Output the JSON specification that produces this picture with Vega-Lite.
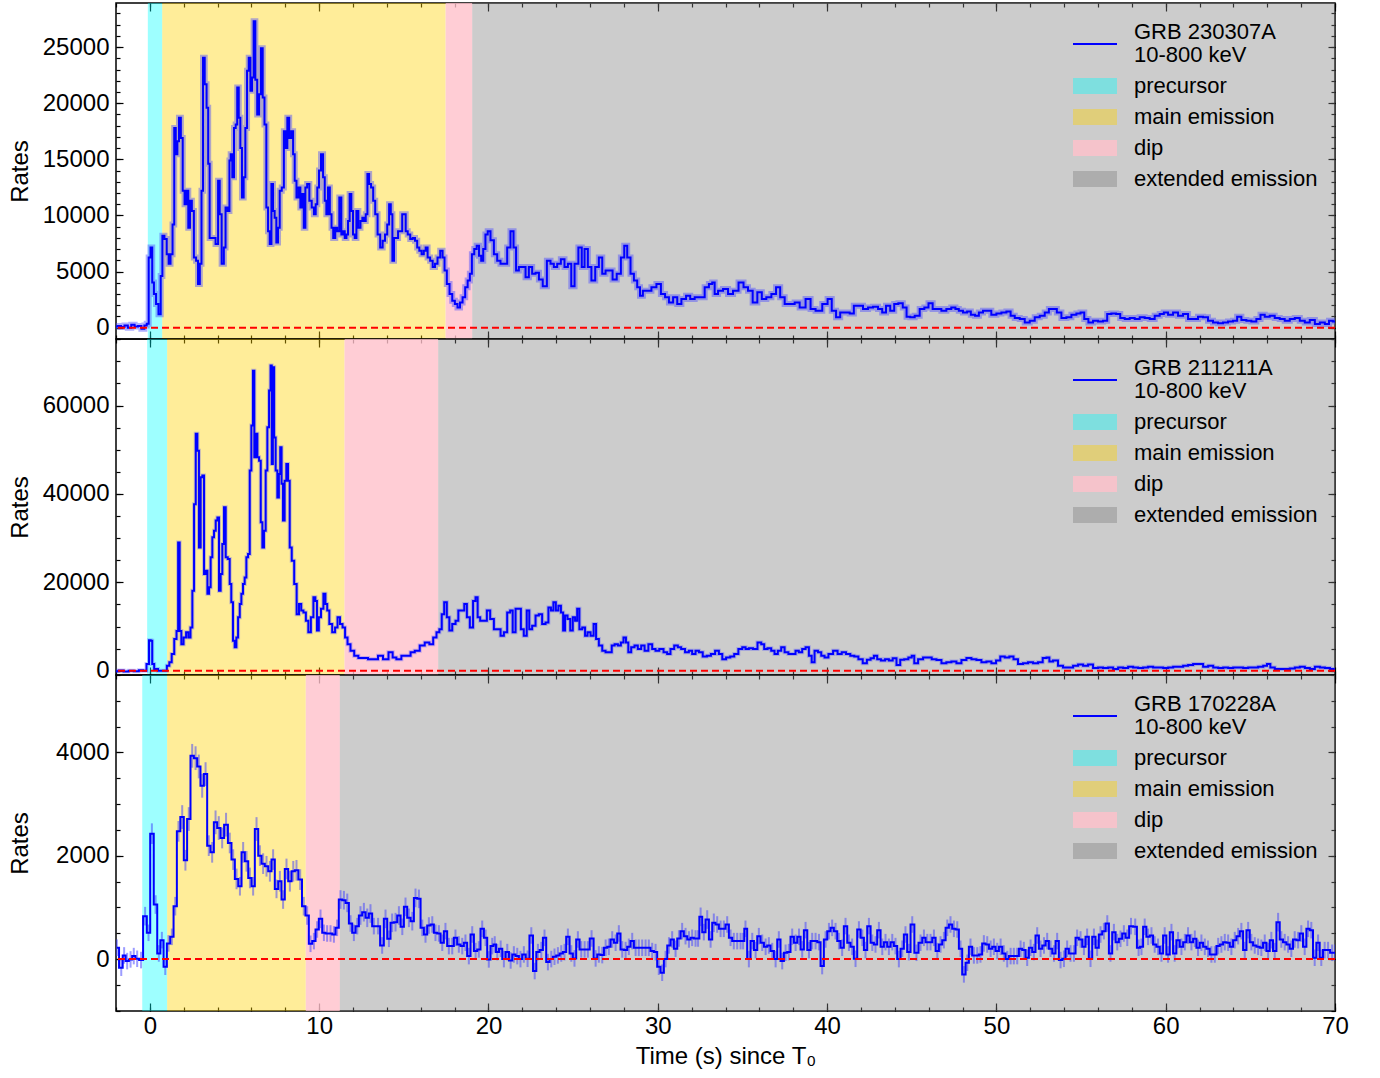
{
"$schema": "https://vega.github.io/schema/vega-lite/v6.json",
"background": "white",
"padding": {"left": 7, "top": 1, "right": 0, "bottom": 0},
"config": {
  "view": {"stroke": "#000000", "strokeWidth": 1.5},
  "font": "Liberation Sans",
  "axis": {"labelFont": "Liberation Sans", "labelFontSize": 24, "labelColor": "#000000", "titleFont": "Liberation Sans", "titleFontSize": 24, "titleFontWeight": "normal", "titleColor": "#000000", "tickColor": "#000000", "tickWidth": 1.2, "domain": false, "grid": false, "labelOverlap": false, "labelFlush": false, "labelBound": false, "zindex": 2},
  "legend": {"labelFont": "Liberation Sans", "orient": "top-right", "offset": 17, "titleFontSize": 9, "titlePadding": 4, "titleOpacity": 0, "padding": 0, "labelFontSize": 22, "labelColor": "#000000", "labelLimit": 400, "labelOffset": 28, "rowPadding": 9, "symbolType": "M-2.75,-1H2.75V1H-2.75Z", "symbolSize": 256, "symbolStrokeWidth": 0, "symbolOpacity": 1}
},
"datasets": {
  "reg1": [{"a": -0.12, "b": 0.73, "seg": "precursor"}, {"a": 0.73, "b": 17.47, "seg": "main emission"}, {"a": 17.47, "b": 19.04, "seg": "dip"}, {"a": 19.04, "b": 70, "seg": "extended emission"}],
  "reg2": [{"a": -0.16, "b": 1.02, "seg": "precursor"}, {"a": 1.02, "b": 11.5, "seg": "main emission"}, {"a": 11.5, "b": 17.03, "seg": "dip"}, {"a": 17.03, "b": 70, "seg": "extended emission"}],
  "reg3": [{"a": -0.45, "b": 1.02, "seg": "precursor"}, {"a": 1.02, "b": 9.21, "seg": "main emission"}, {"a": 9.21, "b": 11.22, "seg": "dip"}, {"a": 11.22, "b": 70, "seg": "extended emission"}],
  "lc1": [
{"t":-2,"r":100},{"t":-1.8,"r":150},{"t":-1.6,"r":50},{"t":-1.4,"r":200},{"t":-1.2,"r":0},{"t":-1,"r":250},{"t":-0.8,"r":100},{"t":-0.6,"r":150},{"t":-0.4,"r":-100},{"t":-0.25,"r":200},{"t":-0.12,"r":350},
{"t":-0.02,"r":6260},{"t":0.1,"r":7150},{"t":0.18,"r":4030},{"t":0.3,"r":3000},{"t":0.43,"r":2100},{"t":0.59,"r":1200},{"t":0.69,"r":4600},{"t":0.79,"r":8200},{"t":0.93,"r":7900},{"t":1.06,"r":6550},{"t":1.16,"r":5700},{"t":1.28,"r":6550},{"t":1.4,"r":9200},{"t":1.48,"r":17800},{"t":1.58,"r":15450},{"t":1.67,"r":16600},{"t":1.77,"r":18700},{"t":1.89,"r":16900},{"t":1.99,"r":12200},{"t":2.11,"r":11000},{"t":2.22,"r":12200},{"t":2.32,"r":8900},{"t":2.42,"r":11300},{"t":2.54,"r":10400},{"t":2.66,"r":6260},{"t":2.8,"r":5960},{"t":2.89,"r":3900},{"t":3.01,"r":5700},{"t":3.09,"r":12200},{"t":3.19,"r":24050},{"t":3.29,"r":21700},{"t":3.41,"r":19600},{"t":3.48,"r":14600},{"t":3.58,"r":8000},{"t":3.78,"r":8000},{"t":3.98,"r":7450},{"t":4.08,"r":13100},{"t":4.17,"r":10100},{"t":4.31,"r":5700},{"t":4.43,"r":7150},{"t":4.51,"r":10700},{"t":4.67,"r":10400},{"t":4.73,"r":14900},{"t":4.82,"r":15450},{"t":4.92,"r":13400},{"t":5.02,"r":17800},{"t":5.12,"r":18100},{"t":5.2,"r":21400},{"t":5.3,"r":18700},{"t":5.39,"r":16000},{"t":5.49,"r":11600},{"t":5.59,"r":13400},{"t":5.69,"r":17800},{"t":5.79,"r":22900},{"t":5.89,"r":24050},{"t":5.99,"r":21100},{"t":6.08,"r":22300},{"t":6.18,"r":27300},{"t":6.28,"r":22100},{"t":6.4,"r":19000},{"t":6.5,"r":20800},{"t":6.62,"r":24900},{"t":6.71,"r":20500},{"t":6.83,"r":18100},{"t":6.93,"r":10700},{"t":7.03,"r":8600},{"t":7.13,"r":7450},{"t":7.23,"r":12800},{"t":7.32,"r":10400},{"t":7.42,"r":9800},{"t":7.52,"r":7600},{"t":7.62,"r":8900},{"t":7.72,"r":12200},{"t":7.86,"r":12500},{"t":7.97,"r":17500},{"t":8.07,"r":16000},{"t":8.17,"r":18700},{"t":8.29,"r":16900},{"t":8.41,"r":17500},{"t":8.51,"r":15450},{"t":8.6,"r":13100},{"t":8.72,"r":11600},{"t":8.84,"r":12500},{"t":8.94,"r":10700},{"t":9.04,"r":11900},{"t":9.14,"r":8900},{"t":9.23,"r":12500},{"t":9.35,"r":12800},{"t":9.49,"r":11300},{"t":9.63,"r":10700},{"t":9.75,"r":10100},{"t":9.84,"r":11000},{"t":9.94,"r":12500},{"t":10.04,"r":14000},{"t":10.18,"r":15450},{"t":10.28,"r":13400},{"t":10.38,"r":11300},{"t":10.47,"r":10100},{"t":10.57,"r":12500},{"t":10.69,"r":10100},{"t":10.77,"r":8900},{"t":10.89,"r":8000},{"t":11.01,"r":8900},{"t":11.12,"r":8600},{"t":11.26,"r":11600},{"t":11.36,"r":8300},{"t":11.46,"r":8600},{"t":11.56,"r":8000},{"t":11.66,"r":8300},{"t":11.75,"r":9500},{"t":11.85,"r":11900},{"t":11.95,"r":10400},{"t":12.05,"r":8300},{"t":12.15,"r":8000},{"t":12.25,"r":10400},{"t":12.38,"r":8900},{"t":12.5,"r":9500},{"t":12.6,"r":9800},{"t":12.7,"r":9500},{"t":12.8,"r":10100},{"t":12.9,"r":13700},{"t":13,"r":12800},{"t":13.13,"r":12500},{"t":13.25,"r":11300},{"t":13.37,"r":10100},{"t":13.53,"r":8300},{"t":13.68,"r":7150},{"t":13.82,"r":7750},{"t":13.96,"r":8300},{"t":14.08,"r":9200},{"t":14.18,"r":11000},{"t":14.28,"r":10100},{"t":14.37,"r":5960},{"t":14.47,"r":8000},{"t":14.61,"r":8000},{"t":14.71,"r":8600},{"t":14.85,"r":8600},{"t":14.96,"r":10100},{"t":15.06,"r":10100},{"t":15.16,"r":8600},{"t":15.3,"r":8300},{"t":15.46,"r":7900},{"t":15.59,"r":8000},{"t":15.73,"r":7750},{"t":15.85,"r":7150},{"t":15.98,"r":6850},{"t":16.12,"r":6550},{"t":16.24,"r":6850},{"t":16.34,"r":7150},{"t":16.47,"r":6260},{"t":16.64,"r":5960},{"t":16.77,"r":5400},{"t":16.91,"r":5700},{"t":17.07,"r":6260},{"t":17.23,"r":6850},{"t":17.35,"r":6260},{"t":17.46,"r":5100},{"t":17.62,"r":3900},{"t":17.78,"r":3000},{"t":17.94,"r":2400},{"t":18.09,"r":2100},{"t":18.25,"r":1800},{"t":18.39,"r":2250},{"t":18.55,"r":2700},{"t":18.7,"r":3600},{"t":18.84,"r":4200},{"t":18.96,"r":4800},{"t":19.08,"r":6550},{"t":19.24,"r":7000},{"t":19.37,"r":7300},{"t":19.51,"r":6400},{"t":19.63,"r":5960},{"t":19.75,"r":7000},{"t":19.89,"r":8300},{"t":20.02,"r":8600},{"t":20.22,"r":7800},{"t":20.42,"r":6550},{"t":20.61,"r":5960},{"t":20.81,"r":5700},{"t":21.01,"r":5700},{"t":21.2,"r":7150},{"t":21.4,"r":8600},{"t":21.56,"r":7150},{"t":21.7,"r":5100},{"t":21.89,"r":5400},{"t":22.09,"r":5400},{"t":22.29,"r":4500},{"t":22.48,"r":5400},{"t":22.68,"r":4800},{"t":22.88,"r":4900},{"t":23.08,"r":4300},{"t":23.33,"r":3700},{"t":23.57,"r":5960},{"t":23.76,"r":5700},{"t":23.96,"r":5400},{"t":24.16,"r":5700},{"t":24.39,"r":6100},{"t":24.59,"r":5400},{"t":24.79,"r":5700},{"t":24.99,"r":3700},{"t":25.18,"r":5700},{"t":25.44,"r":7150},{"t":25.58,"r":5400},{"t":25.77,"r":7000},{"t":25.97,"r":5400},{"t":26.19,"r":4200},{"t":26.42,"r":5400},{"t":26.62,"r":6260},{"t":26.82,"r":4800},{"t":27.01,"r":5100},{"t":27.21,"r":5100},{"t":27.45,"r":4300},{"t":27.7,"r":4800},{"t":27.94,"r":6260},{"t":28.1,"r":7300},{"t":28.29,"r":6260},{"t":28.49,"r":4800},{"t":28.69,"r":4200},{"t":28.88,"r":3600},{"t":29.02,"r":2850},{"t":29.22,"r":3300},{"t":29.48,"r":3300},{"t":29.77,"r":3600},{"t":30.07,"r":3900},{"t":30.3,"r":3000},{"t":30.56,"r":2700},{"t":30.76,"r":2250},{"t":31.05,"r":2700},{"t":31.25,"r":2100},{"t":31.54,"r":2550},{"t":31.8,"r":2850},{"t":32.03,"r":2550},{"t":32.33,"r":2700},{"t":32.62,"r":2700},{"t":32.92,"r":3600},{"t":33.12,"r":3900},{"t":33.31,"r":4030},{"t":33.41,"r":3000},{"t":33.71,"r":3300},{"t":34,"r":3450},{"t":34.3,"r":3000},{"t":34.59,"r":3300},{"t":34.95,"r":4030},{"t":35.18,"r":3600},{"t":35.48,"r":3300},{"t":35.73,"r":2250},{"t":36.03,"r":3150},{"t":36.26,"r":2550},{"t":36.56,"r":2700},{"t":36.86,"r":3000},{"t":37.11,"r":3600},{"t":37.35,"r":2700},{"t":37.64,"r":2100},{"t":37.94,"r":2100},{"t":38.23,"r":2250},{"t":38.53,"r":1800},{"t":38.93,"r":2550},{"t":39.12,"r":1660},{"t":39.52,"r":1500},{"t":39.91,"r":2100},{"t":40.15,"r":2550},{"t":40.4,"r":1500},{"t":40.66,"r":920},{"t":40.89,"r":1360},{"t":41.19,"r":1360},{"t":41.48,"r":1270},{"t":41.68,"r":1960},{"t":41.97,"r":1960},{"t":42.27,"r":1660},{"t":42.57,"r":1800},{"t":42.86,"r":1870},{"t":43.16,"r":1660},{"t":43.35,"r":1360},{"t":43.61,"r":1960},{"t":43.85,"r":1500},{"t":44.08,"r":2100},{"t":44.34,"r":2170},{"t":44.6,"r":1800},{"t":44.79,"r":980},{"t":45.03,"r":920},{"t":45.32,"r":1070},{"t":45.62,"r":1660},{"t":45.87,"r":1800},{"t":46.11,"r":2170},{"t":46.36,"r":1660},{"t":46.6,"r":1660},{"t":46.9,"r":1500},{"t":47.19,"r":1660},{"t":47.48,"r":1800},{"t":47.68,"r":1660},{"t":47.88,"r":1500},{"t":48.17,"r":1360},{"t":48.37,"r":1450},{"t":48.61,"r":1160},{"t":48.87,"r":1070},{"t":49.06,"r":1360},{"t":49.36,"r":1500},{"t":49.55,"r":1500},{"t":49.85,"r":1160},{"t":50.15,"r":1270},{"t":50.44,"r":1360},{"t":50.74,"r":1450},{"t":50.94,"r":1070},{"t":51.23,"r":860},{"t":51.53,"r":770},{"t":51.82,"r":470},{"t":52.12,"r":620},{"t":52.41,"r":920},{"t":52.71,"r":1070},{"t":53,"r":1360},{"t":53.2,"r":1660},{"t":53.45,"r":1660},{"t":53.69,"r":1360},{"t":53.99,"r":860},{"t":54.28,"r":920},{"t":54.58,"r":1160},{"t":54.87,"r":1270},{"t":55.07,"r":1360},{"t":55.31,"r":770},{"t":55.56,"r":470},{"t":55.86,"r":620},{"t":56.15,"r":560},{"t":56.45,"r":620},{"t":56.64,"r":1220},{"t":56.94,"r":1270},{"t":57.2,"r":1220},{"t":57.43,"r":860},{"t":57.73,"r":770},{"t":58.02,"r":860},{"t":58.32,"r":770},{"t":58.61,"r":920},{"t":58.91,"r":860},{"t":59.2,"r":770},{"t":59.5,"r":1070},{"t":59.79,"r":1220},{"t":59.99,"r":1360},{"t":60.29,"r":1160},{"t":60.58,"r":1360},{"t":60.88,"r":1070},{"t":61.17,"r":1220},{"t":61.47,"r":770},{"t":61.76,"r":770},{"t":62.06,"r":980},{"t":62.35,"r":920},{"t":62.65,"r":620},{"t":62.94,"r":470},{"t":63.24,"r":390},{"t":63.53,"r":470},{"t":63.83,"r":560},{"t":64.12,"r":620},{"t":64.32,"r":980},{"t":64.62,"r":680},{"t":64.91,"r":620},{"t":65.21,"r":560},{"t":65.5,"r":770},{"t":65.7,"r":1160},{"t":66,"r":980},{"t":66.29,"r":1070},{"t":66.59,"r":860},{"t":66.88,"r":770},{"t":67.18,"r":620},{"t":67.48,"r":770},{"t":67.77,"r":860},{"t":68.07,"r":620},{"t":68.36,"r":470},{"t":68.66,"r":680},{"t":68.96,"r":330},{"t":69.25,"r":470},{"t":69.55,"r":330},{"t":69.74,"r":620},{"t":70,"r":560}
  ],
  "lc2": [
{"t":-2,"r":-100},{"t":-1.7,"r":50},{"t":-1.4,"r":-150},{"t":-1.1,"r":0},{"t":-0.8,"r":-100},{"t":-0.5,"r":100},{"t":-0.3,"r":0},{"t":-0.1,"r":1500},{"t":0,"r":6900},{"t":0.1,"r":6800},{"t":0.18,"r":1500},{"t":0.33,"r":400},{"t":0.63,"r":0},{"t":0.93,"r":0},{"t":1.08,"r":1100},{"t":1.22,"r":1900},{"t":1.36,"r":3800},{"t":1.52,"r":7200},{"t":1.63,"r":9000},{"t":1.71,"r":29000},{"t":1.81,"r":9000},{"t":1.91,"r":6000},{"t":2.07,"r":7500},{"t":2.21,"r":8700},{"t":2.34,"r":7500},{"t":2.46,"r":9800},{"t":2.56,"r":18100},{"t":2.66,"r":37700},{"t":2.76,"r":53600},{"t":2.85,"r":49800},{"t":2.95,"r":27900},{"t":3.05,"r":43800},{"t":3.15,"r":44200},{"t":3.25,"r":21900},{"t":3.35,"r":22600},{"t":3.45,"r":17400},{"t":3.54,"r":18900},{"t":3.64,"r":25700},{"t":3.74,"r":30200},{"t":3.84,"r":31700},{"t":3.94,"r":34000},{"t":4.04,"r":34700},{"t":4.13,"r":18100},{"t":4.23,"r":21900},{"t":4.33,"r":28700},{"t":4.43,"r":37000},{"t":4.53,"r":25700},{"t":4.67,"r":25300},{"t":4.76,"r":19600},{"t":4.86,"r":15500},{"t":4.96,"r":6800},{"t":5.06,"r":5300},{"t":5.16,"r":7500},{"t":5.26,"r":12100},{"t":5.36,"r":15100},{"t":5.45,"r":17400},{"t":5.55,"r":19600},{"t":5.65,"r":21100},{"t":5.75,"r":25700},{"t":5.85,"r":26400},{"t":5.95,"r":45300},{"t":6.04,"r":55500},{"t":6.14,"r":67900},{"t":6.2,"r":48300},{"t":6.3,"r":53600},{"t":6.4,"r":48300},{"t":6.5,"r":47500},{"t":6.6,"r":33600},{"t":6.69,"r":27900},{"t":6.79,"r":31700},{"t":6.89,"r":45300},{"t":6.99,"r":55100},{"t":7.09,"r":63400},{"t":7.17,"r":69100},{"t":7.23,"r":46800},{"t":7.3,"r":68700},{"t":7.38,"r":52800},{"t":7.48,"r":45300},{"t":7.58,"r":39200},{"t":7.66,"r":44500},{"t":7.74,"r":50600},{"t":7.82,"r":42300},{"t":7.91,"r":34000},{"t":8.01,"r":43000},{"t":8.11,"r":46800},{"t":8.21,"r":43000},{"t":8.31,"r":27900},{"t":8.45,"r":24900},{"t":8.6,"r":19600},{"t":8.74,"r":12800},{"t":8.88,"r":15100},{"t":9,"r":13600},{"t":9.14,"r":13200},{"t":9.29,"r":11300},{"t":9.43,"r":8700},{"t":9.59,"r":12100},{"t":9.73,"r":16600},{"t":9.82,"r":15800},{"t":9.92,"r":9100},{"t":10.04,"r":12100},{"t":10.18,"r":14000},{"t":10.32,"r":17400},{"t":10.42,"r":15100},{"t":10.53,"r":13600},{"t":10.67,"r":10600},{"t":10.87,"r":8700},{"t":11.01,"r":9800},{"t":11.16,"r":12100},{"t":11.3,"r":10600},{"t":11.46,"r":9800},{"t":11.6,"r":7500},{"t":11.75,"r":6000},{"t":11.95,"r":4500},{"t":12.19,"r":3400},{"t":12.44,"r":2900},{"t":12.74,"r":2900},{"t":13.03,"r":2600},{"t":13.33,"r":2600},{"t":13.62,"r":3400},{"t":13.92,"r":2600},{"t":14.27,"r":4200},{"t":14.41,"r":3000},{"t":14.71,"r":2600},{"t":15,"r":3400},{"t":15.3,"r":3400},{"t":15.5,"r":4200},{"t":15.79,"r":4500},{"t":16.09,"r":5700},{"t":16.38,"r":6400},{"t":16.64,"r":6000},{"t":16.83,"r":7500},{"t":17.03,"r":8700},{"t":17.17,"r":9400},{"t":17.31,"r":12800},{"t":17.46,"r":15500},{"t":17.62,"r":12100},{"t":17.76,"r":9100},{"t":17.96,"r":10600},{"t":18.15,"r":11300},{"t":18.29,"r":13600},{"t":18.49,"r":13600},{"t":18.65,"r":15100},{"t":18.8,"r":12100},{"t":19,"r":9800},{"t":19.18,"r":15800},{"t":19.29,"r":16600},{"t":19.43,"r":12100},{"t":19.59,"r":11300},{"t":19.83,"r":11300},{"t":19.98,"r":13600},{"t":20.22,"r":11700},{"t":20.42,"r":9400},{"t":20.62,"r":9400},{"t":20.81,"r":7900},{"t":21.01,"r":8700},{"t":21.2,"r":13200},{"t":21.36,"r":13600},{"t":21.5,"r":8700},{"t":21.7,"r":14000},{"t":21.84,"r":14000},{"t":21.99,"r":9400},{"t":22.18,"r":7900},{"t":22.34,"r":13600},{"t":22.48,"r":9400},{"t":22.68,"r":10200},{"t":22.88,"r":12500},{"t":23.07,"r":12800},{"t":23.27,"r":10600},{"t":23.47,"r":10900},{"t":23.61,"r":14300},{"t":23.77,"r":13600},{"t":23.9,"r":15500},{"t":24.06,"r":13600},{"t":24.2,"r":14700},{"t":24.36,"r":13200},{"t":24.46,"r":9100},{"t":24.59,"r":12500},{"t":24.75,"r":11700},{"t":24.91,"r":9100},{"t":25.05,"r":12100},{"t":25.18,"r":11300},{"t":25.3,"r":14000},{"t":25.44,"r":9400},{"t":25.64,"r":9800},{"t":25.77,"r":7900},{"t":25.93,"r":8700},{"t":26.13,"r":7900},{"t":26.29,"r":10600},{"t":26.42,"r":7200},{"t":26.62,"r":5700},{"t":26.82,"r":4500},{"t":27.01,"r":4200},{"t":27.21,"r":4200},{"t":27.35,"r":5700},{"t":27.55,"r":6000},{"t":27.74,"r":5700},{"t":27.9,"r":6400},{"t":28.05,"r":7500},{"t":28.19,"r":6400},{"t":28.33,"r":4200},{"t":28.53,"r":5300},{"t":28.72,"r":5700},{"t":28.92,"r":4900},{"t":29.12,"r":5700},{"t":29.32,"r":4500},{"t":29.57,"r":6000},{"t":29.77,"r":4900},{"t":29.96,"r":4500},{"t":30.22,"r":4900},{"t":30.46,"r":4200},{"t":30.65,"r":3800},{"t":30.85,"r":4900},{"t":31.09,"r":5700},{"t":31.28,"r":5300},{"t":31.48,"r":4900},{"t":31.74,"r":4200},{"t":31.93,"r":4500},{"t":32.13,"r":3800},{"t":32.33,"r":4500},{"t":32.53,"r":4200},{"t":32.78,"r":3200},{"t":33.02,"r":3400},{"t":33.26,"r":3800},{"t":33.51,"r":4500},{"t":33.71,"r":3800},{"t":33.91,"r":2600},{"t":34.16,"r":3000},{"t":34.4,"r":3200},{"t":34.63,"r":3800},{"t":34.89,"r":4900},{"t":35.09,"r":5300},{"t":35.28,"r":4900},{"t":35.48,"r":5100},{"t":35.77,"r":4900},{"t":36.01,"r":6400},{"t":36.21,"r":6000},{"t":36.36,"r":4900},{"t":36.6,"r":5100},{"t":36.8,"r":4500},{"t":36.99,"r":3800},{"t":37.19,"r":4500},{"t":37.39,"r":5300},{"t":37.59,"r":4200},{"t":37.84,"r":3800},{"t":38.04,"r":3800},{"t":38.23,"r":4500},{"t":38.43,"r":4200},{"t":38.63,"r":4900},{"t":38.83,"r":5300},{"t":39.02,"r":3400},{"t":39.16,"r":1900},{"t":39.36,"r":4500},{"t":39.56,"r":4200},{"t":39.75,"r":3400},{"t":39.95,"r":3000},{"t":40.21,"r":3800},{"t":40.5,"r":4500},{"t":40.74,"r":3800},{"t":40.99,"r":4200},{"t":41.25,"r":3800},{"t":41.49,"r":3400},{"t":41.72,"r":3200},{"t":41.98,"r":2600},{"t":42.23,"r":1700},{"t":42.47,"r":2500},{"t":42.67,"r":2800},{"t":42.86,"r":3400},{"t":43.06,"r":2600},{"t":43.3,"r":2300},{"t":43.55,"r":2600},{"t":43.75,"r":2300},{"t":44,"r":2800},{"t":44.2,"r":1300},{"t":44.44,"r":2500},{"t":44.67,"r":2600},{"t":44.93,"r":3000},{"t":45.07,"r":3400},{"t":45.23,"r":1700},{"t":45.52,"r":2600},{"t":45.82,"r":3000},{"t":46.05,"r":3000},{"t":46.31,"r":2600},{"t":46.61,"r":2400},{"t":46.9,"r":1700},{"t":47.19,"r":1900},{"t":47.49,"r":2100},{"t":47.79,"r":1700},{"t":48.08,"r":2400},{"t":48.38,"r":2900},{"t":48.67,"r":2600},{"t":48.97,"r":2400},{"t":49.26,"r":1900},{"t":49.56,"r":2100},{"t":49.85,"r":1700},{"t":50.11,"r":2300},{"t":50.35,"r":3200},{"t":50.64,"r":3000},{"t":50.89,"r":3200},{"t":51.13,"r":2600},{"t":51.42,"r":1500},{"t":51.72,"r":1700},{"t":52.02,"r":1900},{"t":52.31,"r":1700},{"t":52.61,"r":1900},{"t":52.86,"r":2900},{"t":53.06,"r":3000},{"t":53.2,"r":2100},{"t":53.49,"r":2300},{"t":53.79,"r":1100},{"t":54.08,"r":750},{"t":54.38,"r":750},{"t":54.68,"r":1100},{"t":54.97,"r":1400},{"t":55.27,"r":1100},{"t":55.56,"r":1400},{"t":55.86,"r":600},{"t":56.15,"r":750},{"t":56.45,"r":600},{"t":56.75,"r":750},{"t":57.04,"r":400},{"t":57.34,"r":750},{"t":57.63,"r":600},{"t":57.93,"r":900},{"t":58.22,"r":750},{"t":58.52,"r":600},{"t":58.81,"r":750},{"t":59.11,"r":900},{"t":59.4,"r":750},{"t":59.7,"r":750},{"t":60,"r":600},{"t":60.29,"r":750},{"t":60.59,"r":900},{"t":60.88,"r":900},{"t":61.18,"r":1100},{"t":61.47,"r":1300},{"t":61.77,"r":1500},{"t":62.06,"r":1500},{"t":62.36,"r":900},{"t":62.66,"r":1100},{"t":62.95,"r":750},{"t":63.25,"r":600},{"t":63.54,"r":750},{"t":63.84,"r":600},{"t":64.13,"r":750},{"t":64.43,"r":750},{"t":64.72,"r":600},{"t":65.02,"r":750},{"t":65.31,"r":750},{"t":65.61,"r":900},{"t":65.91,"r":1100},{"t":66.06,"r":1500},{"t":66.3,"r":750},{"t":66.59,"r":400},{"t":66.89,"r":400},{"t":67.18,"r":400},{"t":67.48,"r":500},{"t":67.78,"r":750},{"t":68.07,"r":900},{"t":68.37,"r":600},{"t":68.66,"r":400},{"t":68.96,"r":900},{"t":69.26,"r":750},{"t":69.55,"r":600},{"t":69.85,"r":400},{"t":70,"r":150}
  ],
  "lc3": [
{"t":-1.95,"r":219,"e":160},{"t":-1.69,"r":-167,"e":160},{"t":-1.52,"r":71,"e":160},{"t":-1.34,"r":-39,"e":160},{"t":-1.14,"r":-6,"e":160},{"t":-0.95,"r":58,"e":160},{"t":-0.75,"r":6,"e":160},{"t":-0.52,"r":-19,"e":160},{"t":-0.28,"r":831,"e":180},{"t":-0.08,"r":509,"e":160},{"t":0.12,"r":2428,"e":200},{"t":0.34,"r":1056,"e":180},{"t":0.53,"r":109,"e":160},{"t":0.71,"r":367,"e":160},{"t":0.91,"r":-148,"e":160},{"t":1.1,"r":303,"e":160},{"t":1.3,"r":431,"e":160},{"t":1.5,"r":1024,"e":180},{"t":1.69,"r":2473,"e":200},{"t":1.91,"r":2750,"e":230},{"t":2.1,"r":1913,"e":200},{"t":2.3,"r":2711,"e":230},{"t":2.5,"r":3935,"e":230},{"t":2.7,"r":3890,"e":230},{"t":2.89,"r":3729,"e":230},{"t":3.09,"r":3355,"e":230},{"t":3.29,"r":3581,"e":230},{"t":3.48,"r":2196,"e":200},{"t":3.68,"r":2067,"e":200},{"t":3.88,"r":2647,"e":230},{"t":4.07,"r":2537,"e":230},{"t":4.27,"r":2344,"e":200},{"t":4.5,"r":2602,"e":230},{"t":4.72,"r":2248,"e":200},{"t":4.92,"r":1926,"e":200},{"t":5.12,"r":1552,"e":200},{"t":5.32,"r":1410,"e":180},{"t":5.51,"r":2067,"e":200},{"t":5.71,"r":1893,"e":200},{"t":5.91,"r":1571,"e":200},{"t":6.1,"r":1410,"e":180},{"t":6.3,"r":2518,"e":230},{"t":6.5,"r":2003,"e":200},{"t":6.69,"r":1848,"e":200},{"t":6.89,"r":1797,"e":200},{"t":7.09,"r":1700,"e":200},{"t":7.28,"r":1926,"e":200},{"t":7.48,"r":1359,"e":180},{"t":7.68,"r":1507,"e":200},{"t":7.87,"r":1153,"e":180},{"t":8.07,"r":1745,"e":200},{"t":8.27,"r":1507,"e":200},{"t":8.47,"r":1700,"e":200},{"t":8.66,"r":1719,"e":200},{"t":8.88,"r":1539,"e":200},{"t":9.09,"r":1024,"e":180},{"t":9.29,"r":844,"e":180},{"t":9.49,"r":296,"e":160},{"t":9.69,"r":348,"e":160},{"t":9.88,"r":573,"e":160},{"t":10.08,"r":779,"e":180},{"t":10.28,"r":509,"e":160},{"t":10.47,"r":496,"e":160},{"t":10.67,"r":496,"e":160},{"t":10.87,"r":477,"e":160},{"t":11.06,"r":605,"e":160},{"t":11.26,"r":1153,"e":180},{"t":11.46,"r":1140,"e":180},{"t":11.66,"r":1088,"e":180},{"t":11.85,"r":689,"e":160},{"t":12.05,"r":509,"e":160},{"t":12.25,"r":638,"e":160},{"t":12.44,"r":844,"e":180},{"t":12.64,"r":908,"e":180},{"t":12.84,"r":799,"e":180},{"t":13.03,"r":882,"e":180},{"t":13.23,"r":638,"e":160},{"t":13.48,"r":638,"e":160},{"t":13.72,"r":264,"e":160},{"t":13.92,"r":779,"e":180},{"t":14.12,"r":393,"e":160},{"t":14.31,"r":702,"e":180},{"t":14.51,"r":715,"e":180},{"t":14.71,"r":844,"e":180},{"t":14.91,"r":625,"e":160},{"t":15.1,"r":1011,"e":180},{"t":15.3,"r":799,"e":180},{"t":15.5,"r":734,"e":180},{"t":15.69,"r":1185,"e":180},{"t":15.89,"r":1166,"e":180},{"t":16.09,"r":605,"e":160},{"t":16.28,"r":477,"e":160},{"t":16.48,"r":650,"e":160},{"t":16.68,"r":670,"e":160},{"t":16.87,"r":509,"e":160},{"t":17.07,"r":496,"e":160},{"t":17.27,"r":316,"e":160},{"t":17.46,"r":541,"e":160},{"t":17.66,"r":251,"e":160},{"t":17.86,"r":251,"e":160},{"t":18.05,"r":412,"e":160},{"t":18.25,"r":283,"e":160},{"t":18.45,"r":251,"e":160},{"t":18.64,"r":316,"e":160},{"t":18.84,"r":58,"e":160},{"t":19.04,"r":477,"e":160},{"t":19.24,"r":155,"e":160},{"t":19.43,"r":187,"e":160},{"t":19.63,"r":586,"e":160},{"t":19.83,"r":412,"e":160},{"t":20.02,"r":-6,"e":160},{"t":20.22,"r":251,"e":160},{"t":20.37,"r":283,"e":160},{"t":20.52,"r":135,"e":160},{"t":20.72,"r":200,"e":160},{"t":20.91,"r":0,"e":160},{"t":21.11,"r":135,"e":160},{"t":21.31,"r":-26,"e":160},{"t":21.5,"r":90,"e":160},{"t":21.7,"r":58,"e":160},{"t":21.89,"r":0,"e":160},{"t":22.09,"r":90,"e":160},{"t":22.31,"r":6,"e":160},{"t":22.53,"r":457,"e":160},{"t":22.73,"r":-232,"e":160},{"t":22.92,"r":135,"e":160},{"t":23.12,"r":174,"e":160},{"t":23.31,"r":412,"e":160},{"t":23.51,"r":-58,"e":160},{"t":23.71,"r":0,"e":160},{"t":23.9,"r":45,"e":160},{"t":24.1,"r":71,"e":160},{"t":24.3,"r":109,"e":160},{"t":24.49,"r":135,"e":160},{"t":24.69,"r":431,"e":160},{"t":24.89,"r":109,"e":160},{"t":25.08,"r":13,"e":160},{"t":25.28,"r":380,"e":160},{"t":25.48,"r":187,"e":160},{"t":25.68,"r":187,"e":160},{"t":25.87,"r":187,"e":160},{"t":26.09,"r":399,"e":160},{"t":26.33,"r":13,"e":160},{"t":26.52,"r":90,"e":160},{"t":26.72,"r":77,"e":160},{"t":26.92,"r":219,"e":160},{"t":27.11,"r":238,"e":160},{"t":27.31,"r":380,"e":160},{"t":27.51,"r":316,"e":160},{"t":27.7,"r":496,"e":160},{"t":27.9,"r":187,"e":160},{"t":28.1,"r":174,"e":160},{"t":28.29,"r":238,"e":160},{"t":28.49,"r":348,"e":160},{"t":28.69,"r":219,"e":160},{"t":28.88,"r":219,"e":160},{"t":29.08,"r":219,"e":160},{"t":29.28,"r":219,"e":160},{"t":29.47,"r":219,"e":160},{"t":29.67,"r":155,"e":160},{"t":29.87,"r":135,"e":160},{"t":30.06,"r":-148,"e":160},{"t":30.26,"r":-264,"e":160},{"t":30.46,"r":0,"e":160},{"t":30.66,"r":264,"e":160},{"t":30.85,"r":380,"e":160},{"t":31.05,"r":200,"e":160},{"t":31.25,"r":399,"e":160},{"t":31.44,"r":541,"e":160},{"t":31.64,"r":444,"e":160},{"t":31.84,"r":380,"e":160},{"t":32.03,"r":412,"e":160},{"t":32.23,"r":399,"e":160},{"t":32.38,"r":399,"e":160},{"t":32.53,"r":818,"e":180},{"t":32.72,"r":522,"e":160},{"t":32.92,"r":766,"e":180},{"t":33.12,"r":380,"e":160},{"t":33.31,"r":702,"e":180},{"t":33.51,"r":670,"e":160},{"t":33.71,"r":586,"e":160},{"t":33.9,"r":586,"e":160},{"t":34.1,"r":670,"e":160},{"t":34.3,"r":412,"e":160},{"t":34.49,"r":348,"e":160},{"t":34.69,"r":348,"e":160},{"t":34.89,"r":348,"e":160},{"t":35.04,"r":348,"e":160},{"t":35.18,"r":586,"e":160},{"t":35.38,"r":0,"e":160},{"t":35.58,"r":348,"e":160},{"t":35.78,"r":174,"e":160},{"t":35.97,"r":444,"e":160},{"t":36.17,"r":316,"e":160},{"t":36.37,"r":238,"e":160},{"t":36.56,"r":264,"e":160},{"t":36.76,"r":155,"e":160},{"t":36.96,"r":0,"e":160},{"t":37.15,"r":380,"e":160},{"t":37.35,"r":-39,"e":160},{"t":37.55,"r":122,"e":160},{"t":37.74,"r":135,"e":160},{"t":37.94,"r":431,"e":160},{"t":38.14,"r":316,"e":160},{"t":38.34,"r":431,"e":160},{"t":38.53,"r":187,"e":160},{"t":38.73,"r":560,"e":160},{"t":38.93,"r":174,"e":160},{"t":39.12,"r":348,"e":160},{"t":39.32,"r":348,"e":160},{"t":39.52,"r":328,"e":160},{"t":39.71,"r":-135,"e":160},{"t":39.91,"r":380,"e":160},{"t":40.11,"r":541,"e":160},{"t":40.3,"r":605,"e":160},{"t":40.5,"r":541,"e":160},{"t":40.7,"r":348,"e":160},{"t":40.89,"r":219,"e":160},{"t":41.09,"r":638,"e":160},{"t":41.29,"r":316,"e":160},{"t":41.48,"r":238,"e":160},{"t":41.68,"r":6,"e":160},{"t":41.88,"r":573,"e":160},{"t":42.08,"r":412,"e":160},{"t":42.27,"r":174,"e":160},{"t":42.47,"r":638,"e":160},{"t":42.67,"r":316,"e":160},{"t":42.86,"r":283,"e":160},{"t":43.06,"r":560,"e":160},{"t":43.26,"r":238,"e":160},{"t":43.45,"r":328,"e":160},{"t":43.65,"r":238,"e":160},{"t":43.85,"r":328,"e":160},{"t":44.04,"r":251,"e":160},{"t":44.24,"r":0,"e":160},{"t":44.44,"r":200,"e":160},{"t":44.63,"r":476,"e":160},{"t":44.83,"r":135,"e":160},{"t":45.03,"r":670,"e":160},{"t":45.28,"r":122,"e":160},{"t":45.52,"r":316,"e":160},{"t":45.72,"r":412,"e":160},{"t":45.92,"r":328,"e":160},{"t":46.11,"r":328,"e":160},{"t":46.31,"r":412,"e":160},{"t":46.51,"r":155,"e":160},{"t":46.7,"r":283,"e":160},{"t":46.9,"r":367,"e":160},{"t":47.1,"r":605,"e":160},{"t":47.29,"r":670,"e":160},{"t":47.49,"r":586,"e":160},{"t":47.69,"r":573,"e":160},{"t":47.88,"r":200,"e":160},{"t":48.08,"r":-296,"e":160},{"t":48.28,"r":-71,"e":160},{"t":48.47,"r":238,"e":160},{"t":48.67,"r":71,"e":160},{"t":48.87,"r":71,"e":160},{"t":49.06,"r":90,"e":160},{"t":49.26,"r":303,"e":160},{"t":49.46,"r":283,"e":160},{"t":49.66,"r":200,"e":160},{"t":49.85,"r":238,"e":160},{"t":50.05,"r":155,"e":160},{"t":50.25,"r":238,"e":160},{"t":50.44,"r":109,"e":160},{"t":50.64,"r":0,"e":160},{"t":50.84,"r":58,"e":160},{"t":51.03,"r":58,"e":160},{"t":51.23,"r":58,"e":160},{"t":51.43,"r":200,"e":160},{"t":51.62,"r":174,"e":160},{"t":51.82,"r":26,"e":160},{"t":52.02,"r":219,"e":160},{"t":52.21,"r":135,"e":160},{"t":52.41,"r":457,"e":160},{"t":52.61,"r":200,"e":160},{"t":52.81,"r":264,"e":160},{"t":53,"r":348,"e":160},{"t":53.2,"r":200,"e":160},{"t":53.4,"r":109,"e":160},{"t":53.59,"r":348,"e":160},{"t":53.79,"r":-19,"e":160},{"t":53.99,"r":6,"e":160},{"t":54.18,"r":200,"e":160},{"t":54.38,"r":109,"e":160},{"t":54.58,"r":109,"e":160},{"t":54.77,"r":412,"e":160},{"t":54.97,"r":380,"e":160},{"t":55.17,"r":238,"e":160},{"t":55.36,"r":431,"e":160},{"t":55.56,"r":6,"e":160},{"t":55.76,"r":431,"e":160},{"t":55.95,"r":219,"e":160},{"t":56.15,"r":476,"e":160},{"t":56.35,"r":541,"e":160},{"t":56.55,"r":689,"e":160},{"t":56.74,"r":109,"e":160},{"t":56.94,"r":522,"e":160},{"t":57.14,"r":328,"e":160},{"t":57.33,"r":393,"e":160},{"t":57.53,"r":496,"e":160},{"t":57.73,"r":412,"e":160},{"t":57.95,"r":638,"e":160},{"t":58.2,"r":625,"e":160},{"t":58.4,"r":219,"e":160},{"t":58.57,"r":238,"e":160},{"t":58.76,"r":625,"e":160},{"t":58.96,"r":431,"e":160},{"t":59.16,"r":457,"e":160},{"t":59.35,"r":283,"e":160},{"t":59.55,"r":238,"e":160},{"t":59.75,"r":109,"e":160},{"t":59.94,"r":457,"e":160},{"t":60.14,"r":90,"e":160},{"t":60.34,"r":522,"e":160},{"t":60.53,"r":109,"e":160},{"t":60.73,"r":367,"e":160},{"t":60.93,"r":238,"e":160},{"t":61.13,"r":328,"e":160},{"t":61.32,"r":457,"e":160},{"t":61.52,"r":328,"e":160},{"t":61.72,"r":393,"e":160},{"t":61.91,"r":219,"e":160},{"t":62.11,"r":316,"e":160},{"t":62.31,"r":238,"e":160},{"t":62.5,"r":200,"e":160},{"t":62.7,"r":90,"e":160},{"t":62.9,"r":90,"e":160},{"t":63.1,"r":251,"e":160},{"t":63.29,"r":283,"e":160},{"t":63.49,"r":328,"e":160},{"t":63.69,"r":316,"e":160},{"t":63.88,"r":238,"e":160},{"t":64.08,"r":367,"e":160},{"t":64.28,"r":444,"e":160},{"t":64.47,"r":541,"e":160},{"t":64.67,"r":174,"e":160},{"t":64.87,"r":560,"e":160},{"t":65.06,"r":328,"e":160},{"t":65.26,"r":264,"e":160},{"t":65.46,"r":238,"e":160},{"t":65.65,"r":219,"e":160},{"t":65.85,"r":316,"e":160},{"t":66.05,"r":155,"e":160},{"t":66.24,"r":367,"e":160},{"t":66.44,"r":155,"e":160},{"t":66.64,"r":715,"e":180},{"t":66.83,"r":380,"e":160},{"t":67.03,"r":328,"e":160},{"t":67.23,"r":283,"e":160},{"t":67.42,"r":200,"e":160},{"t":67.62,"r":380,"e":160},{"t":67.82,"r":367,"e":160},{"t":68.01,"r":496,"e":160},{"t":68.21,"r":238,"e":160},{"t":68.41,"r":586,"e":160},{"t":68.6,"r":560,"e":160},{"t":68.8,"r":26,"e":160},{"t":69,"r":316,"e":160},{"t":69.19,"r":26,"e":160},{"t":69.39,"r":174,"e":160},{"t":69.59,"r":174,"e":160},{"t":69.83,"r":122,"e":160},{"t":70,"r":122,"e":160}
  ]
},
"vconcat": [
  {
    "width": 1219, "height": 336,
    "layer": [
      {"data": {"name": "reg1"}, "mark": {"type": "rect", "clip": true},
       "encoding": {
         "x": {"field": "a", "type": "quantitative", "scale": {"domain": [-2, 70], "nice": false, "zero": false}, "axis": null},
         "x2": {"field": "b"},
         "fill": {"field": "seg", "type": "nominal", "sort": null,
           "scale": {"domain": ["GRB 230307A", "precursor", "main emission", "dip", "extended emission"], "range": ["#0000ff", "rgba(0,255,255,0.38)", "rgba(255,210,0,0.4)", "rgba(255,192,203,0.8)", "rgba(128,128,128,0.4)"]},
           "legend": {"title": "-", "labelExpr": "datum.label == 'GRB 230307A' ? ['GRB 230307A', '10-800 keV'] : datum.label",
             "encode": {"symbols": {"update": {"shape": {"signal": "datum.value == 'GRB 230307A' ? 'M-2.75,-0.125H2.75V0.125H-2.75Z' : 'M-2.75,-1H2.75V1H-2.75Z'"}}}, "labels": {"update": {"lineHeight": {"value": 23}, "dy": {"signal": "datum.value == 'GRB 230307A' ? -12 : 0"}}}}}}
       }},
      {"data": {"name": "lc1"}, "mark": {"type": "line", "interpolate": "step", "color": "#4d4dff", "opacity": 0.45, "strokeWidth": 6, "clip": true},
       "encoding": {"x": {"field": "t", "type": "quantitative", "axis": null}, "y": {"field": "r", "type": "quantitative", "scale": {"domain": [-1010, 28930], "nice": false, "zero": false}, "axis": null}}},
      {"data": {"name": "lc1"}, "mark": {"type": "line", "interpolate": "step", "color": "#0000ff", "strokeWidth": 2, "clip": true},
       "encoding": {"x": {"field": "t", "type": "quantitative", "axis": null}, "y": {"field": "r", "type": "quantitative", "axis": null}}},
      {"data": {"values": [{}]}, "mark": {"type": "rule", "color": "#ff0000", "strokeDash": [7, 4], "strokeWidth": 2},
       "encoding": {"y": {"datum": 0, "type": "quantitative", "axis": null}}},
      {"data": {"values": [{}]}, "mark": {"type": "point", "opacity": 0},
       "encoding": {
         "x": {"datum": 0, "type": "quantitative", "axis": {"orient": "bottom", "values": [0,10,20,30,40,50,60,70], "labels": false, "title": null, "tickSize": -8}},
         "y": {"datum": 0, "type": "quantitative", "axis": {"orient": "left", "values": [0,5000,10000,15000,20000,25000], "format": "d", "title": "Rates", "titleX": -89, "titleBaseline": "alphabetic", "tickSize": -7, "labelPadding": 14}}
       }},
      {"data": {"values": [{}]}, "mark": {"type": "point", "opacity": 0},
       "encoding": {
         "x": {"datum": 0, "type": "quantitative", "axis": {"orient": "top", "values": [0,10,20,30,40,50,60,70], "labels": false, "title": null, "tickSize": -8}},
         "y": {"datum": 0, "type": "quantitative", "axis": {"orient": "right", "values": [0,5000,10000,15000,20000,25000], "labels": false, "title": null, "tickSize": -7}}
       }},
      {"data": {"values": [{}]}, "mark": {"type": "point", "opacity": 0},
       "encoding": {
         "x": {"datum": 0, "type": "quantitative", "axis": {"orient": "bottom", "values": [-2,0,2,4,6,8,10,12,14,16,18,20,22,24,26,28,30,32,34,36,38,40,42,44,46,48,50,52,54,56,58,60,62,64,66,68,70], "labels": false, "title": null, "tickSize": -4}},
         "y": {"datum": 0, "type": "quantitative", "axis": {"orient": "left", "values": [-1000,0,1000,2000,3000,4000,5000,6000,7000,8000,9000,10000,11000,12000,13000,14000,15000,16000,17000,18000,19000,20000,21000,22000,23000,24000,25000,26000,27000,28000], "labels": false, "title": null, "tickSize": -4}}
       }},
      {"data": {"values": [{}]}, "mark": {"type": "point", "opacity": 0},
       "encoding": {
         "x": {"datum": 0, "type": "quantitative", "axis": {"orient": "top", "values": [-2,0,2,4,6,8,10,12,14,16,18,20,22,24,26,28,30,32,34,36,38,40,42,44,46,48,50,52,54,56,58,60,62,64,66,68,70], "labels": false, "title": null, "tickSize": -4}},
         "y": {"datum": 0, "type": "quantitative", "axis": {"orient": "right", "values": [-1000,0,1000,2000,3000,4000,5000,6000,7000,8000,9000,10000,11000,12000,13000,14000,15000,16000,17000,18000,19000,20000,21000,22000,23000,24000,25000,26000,27000,28000], "labels": false, "title": null, "tickSize": -4}}
       }}
    ],
    "resolve": {"axis": {"x": "independent", "y": "independent"}}
  },
  {
    "width": 1219, "height": 336,
    "layer": [
      {"data": {"name": "reg2"}, "mark": {"type": "rect", "clip": true},
       "encoding": {
         "x": {"field": "a", "type": "quantitative", "scale": {"domain": [-2, 70], "nice": false, "zero": false}, "axis": null},
         "x2": {"field": "b"},
         "fill": {"field": "seg", "type": "nominal", "sort": null,
           "scale": {"domain": ["GRB 211211A", "precursor", "main emission", "dip", "extended emission"], "range": ["#0000ff", "rgba(0,255,255,0.38)", "rgba(255,210,0,0.4)", "rgba(255,192,203,0.8)", "rgba(128,128,128,0.4)"]},
           "legend": {"title": "-", "labelExpr": "datum.label == 'GRB 211211A' ? ['GRB 211211A', '10-800 keV'] : datum.label",
             "encode": {"symbols": {"update": {"shape": {"signal": "datum.value == 'GRB 211211A' ? 'M-2.75,-0.125H2.75V0.125H-2.75Z' : 'M-2.75,-1H2.75V1H-2.75Z'"}}}, "labels": {"update": {"lineHeight": {"value": 23}, "dy": {"signal": "datum.value == 'GRB 211211A' ? -12 : 0"}}}}}}
       }},
      {"data": {"name": "lc2"}, "mark": {"type": "line", "interpolate": "step", "color": "#4d4dff", "opacity": 0.3, "strokeWidth": 4, "clip": true},
       "encoding": {"x": {"field": "t", "type": "quantitative", "axis": null}, "y": {"field": "r", "type": "quantitative", "scale": {"domain": [-970, 75070], "nice": false, "zero": false}, "axis": null}}},
      {"data": {"name": "lc2"}, "mark": {"type": "line", "interpolate": "step", "color": "#0000ff", "strokeWidth": 2, "clip": true},
       "encoding": {"x": {"field": "t", "type": "quantitative", "axis": null}, "y": {"field": "r", "type": "quantitative", "axis": null}}},
      {"data": {"values": [{}]}, "mark": {"type": "rule", "color": "#ff0000", "strokeDash": [7, 4], "strokeWidth": 2},
       "encoding": {"y": {"datum": 0, "type": "quantitative", "axis": null}}},
      {"data": {"values": [{}]}, "mark": {"type": "point", "opacity": 0},
       "encoding": {
         "x": {"datum": 0, "type": "quantitative", "axis": {"orient": "bottom", "values": [0,10,20,30,40,50,60,70], "labels": false, "title": null, "tickSize": -8}},
         "y": {"datum": 0, "type": "quantitative", "axis": {"orient": "left", "values": [0,20000,40000,60000], "format": "d", "title": "Rates", "titleX": -89, "titleBaseline": "alphabetic", "tickSize": -7, "labelPadding": 14}}
       }},
      {"data": {"values": [{}]}, "mark": {"type": "point", "opacity": 0},
       "encoding": {
         "x": {"datum": 0, "type": "quantitative", "axis": {"orient": "top", "values": [0,10,20,30,40,50,60,70], "labels": false, "title": null, "tickSize": -8}},
         "y": {"datum": 0, "type": "quantitative", "axis": {"orient": "right", "values": [0,20000,40000,60000], "labels": false, "title": null, "tickSize": -7}}
       }},
      {"data": {"values": [{}]}, "mark": {"type": "point", "opacity": 0},
       "encoding": {
         "x": {"datum": 0, "type": "quantitative", "axis": {"orient": "bottom", "values": [-2,0,2,4,6,8,10,12,14,16,18,20,22,24,26,28,30,32,34,36,38,40,42,44,46,48,50,52,54,56,58,60,62,64,66,68,70], "labels": false, "title": null, "tickSize": -4}},
         "y": {"datum": 0, "type": "quantitative", "axis": {"orient": "left", "values": [0,5000,10000,15000,20000,25000,30000,35000,40000,45000,50000,55000,60000,65000,70000,75000], "labels": false, "title": null, "tickSize": -4}}
       }},
      {"data": {"values": [{}]}, "mark": {"type": "point", "opacity": 0},
       "encoding": {
         "x": {"datum": 0, "type": "quantitative", "axis": {"orient": "top", "values": [-2,0,2,4,6,8,10,12,14,16,18,20,22,24,26,28,30,32,34,36,38,40,42,44,46,48,50,52,54,56,58,60,62,64,66,68,70], "labels": false, "title": null, "tickSize": -4}},
         "y": {"datum": 0, "type": "quantitative", "axis": {"orient": "right", "values": [0,5000,10000,15000,20000,25000,30000,35000,40000,45000,50000,55000,60000,65000,70000,75000], "labels": false, "title": null, "tickSize": -4}}
       }}
    ],
    "resolve": {"axis": {"x": "independent", "y": "independent"}}
  },
  {
    "width": 1219, "height": 336,
    "layer": [
      {"data": {"name": "reg3"}, "mark": {"type": "rect", "clip": true},
       "encoding": {
         "x": {"field": "a", "type": "quantitative", "scale": {"domain": [-2, 70], "nice": false, "zero": false}, "axis": null},
         "x2": {"field": "b"},
         "fill": {"field": "seg", "type": "nominal", "sort": null,
           "scale": {"domain": ["GRB 170228A", "precursor", "main emission", "dip", "extended emission"], "range": ["#0000ff", "rgba(0,255,255,0.38)", "rgba(255,210,0,0.4)", "rgba(255,192,203,0.8)", "rgba(128,128,128,0.4)"]},
           "legend": {"title": "-", "labelExpr": "datum.label == 'GRB 170228A' ? ['GRB 170228A', '10-800 keV'] : datum.label",
             "encode": {"symbols": {"update": {"shape": {"signal": "datum.value == 'GRB 170228A' ? 'M-2.75,-0.125H2.75V0.125H-2.75Z' : 'M-2.75,-1H2.75V1H-2.75Z'"}}}, "labels": {"update": {"lineHeight": {"value": 23}, "dy": {"signal": "datum.value == 'GRB 170228A' ? -12 : 0"}}}}}}
       }},
      {"data": {"name": "lc3"}, "mark": {"type": "errorbar", "ticks": false, "color": "#3c3cff", "opacity": 0.5, "thickness": 2, "clip": true},
       "encoding": {"x": {"field": "t", "type": "quantitative", "axis": null}, "y": {"field": "r", "type": "quantitative", "scale": {"domain": [-1005, 5500], "nice": false, "zero": false}, "axis": null}, "yError": {"field": "e"}}},
      {"data": {"name": "lc3"}, "mark": {"type": "line", "interpolate": "step", "color": "#0000ff", "strokeWidth": 2, "clip": true},
       "encoding": {"x": {"field": "t", "type": "quantitative", "axis": null}, "y": {"field": "r", "type": "quantitative", "axis": null}}},
      {"data": {"values": [{}]}, "mark": {"type": "rule", "color": "#ff0000", "strokeDash": [7, 4], "strokeWidth": 2},
       "encoding": {"y": {"datum": 0, "type": "quantitative", "axis": null}}},
      {"data": {"values": [{}]}, "mark": {"type": "point", "opacity": 0},
       "encoding": {
         "x": {"datum": 0, "type": "quantitative", "axis": {"orient": "bottom", "values": [0,10,20,30,40,50,60,70], "format": "d", "labelPadding": 11, "title": "Time (s) since T₀", "titlePadding": 6, "tickSize": -8}},
         "y": {"datum": 0, "type": "quantitative", "axis": {"orient": "left", "values": [0,2000,4000], "format": "d", "title": "Rates", "titleX": -89, "titleBaseline": "alphabetic", "tickSize": -7, "labelPadding": 14}}
       }},
      {"data": {"values": [{}]}, "mark": {"type": "point", "opacity": 0},
       "encoding": {
         "x": {"datum": 0, "type": "quantitative", "axis": {"orient": "top", "values": [0,10,20,30,40,50,60,70], "labels": false, "title": null, "tickSize": -8}},
         "y": {"datum": 0, "type": "quantitative", "axis": {"orient": "right", "values": [0,2000,4000], "labels": false, "title": null, "tickSize": -7}}
       }},
      {"data": {"values": [{}]}, "mark": {"type": "point", "opacity": 0},
       "encoding": {
         "x": {"datum": 0, "type": "quantitative", "axis": {"orient": "bottom", "values": [-2,0,2,4,6,8,10,12,14,16,18,20,22,24,26,28,30,32,34,36,38,40,42,44,46,48,50,52,54,56,58,60,62,64,66,68,70], "labels": false, "title": null, "tickSize": -4}},
         "y": {"datum": 0, "type": "quantitative", "axis": {"orient": "left", "values": [-1000,-500,0,500,1000,1500,2000,2500,3000,3500,4000,4500,5000,5500], "labels": false, "title": null, "tickSize": -4}}
       }},
      {"data": {"values": [{}]}, "mark": {"type": "point", "opacity": 0},
       "encoding": {
         "x": {"datum": 0, "type": "quantitative", "axis": {"orient": "top", "values": [-2,0,2,4,6,8,10,12,14,16,18,20,22,24,26,28,30,32,34,36,38,40,42,44,46,48,50,52,54,56,58,60,62,64,66,68,70], "labels": false, "title": null, "tickSize": -4}},
         "y": {"datum": 0, "type": "quantitative", "axis": {"orient": "right", "values": [-1000,-500,0,500,1000,1500,2000,2500,3000,3500,4000,4500,5000,5500], "labels": false, "title": null, "tickSize": -4}}
       }}
    ],
    "resolve": {"axis": {"x": "independent", "y": "independent"}}
  }
],
"spacing": 0,
"bounds": "flush",
"resolve": {"scale": {"fill": "independent"}, "legend": {"fill": "independent"}}
}
